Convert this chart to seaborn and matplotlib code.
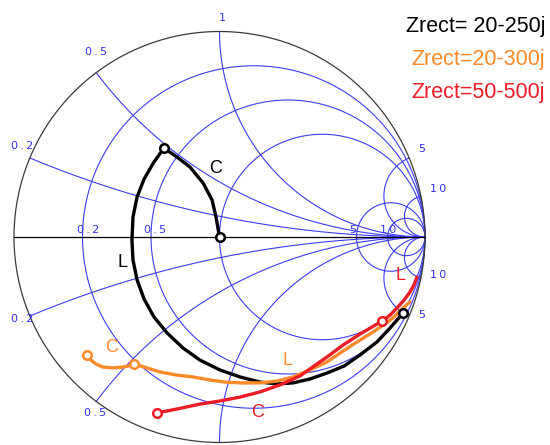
import numpy as np
import pandas as pd
import matplotlib
matplotlib.use("Agg")
import matplotlib.pyplot as plt
import seaborn as sns

# Smith chart grid values (normalized to 50 ohm)
resistance_circles = [0.2, 0.5, 1, 5, 10]
reactance_arcs = [0.2, 0.5, 1, 5, 10]

# Matching paths as reflection coefficients, from the load towards the source
black_re = [0.893, 0.830, 0.766, 0.684, 0.606, 0.523, 0.440, 0.358, 0.280, 0.197,
            0.100, 0.002, -0.095, -0.178, -0.255, -0.319, -0.367, -0.401, -0.421, -0.426,
            -0.421, -0.401, -0.367, -0.319, -0.270,
            -0.207, -0.144, -0.080, -0.036, -0.017, 0.000]
black_im = [-0.370, -0.443, -0.511, -0.574, -0.628, -0.662, -0.691, -0.710, -0.715, -0.706,
            -0.681, -0.647, -0.599, -0.540, -0.467, -0.389, -0.302, -0.209, -0.112, -0.015,
            0.097, 0.195, 0.282, 0.365, 0.433,
            0.389, 0.341, 0.263, 0.180, 0.097, 0.000]
black_marks = [0, 24, 30]

orange_re = [0.927, 0.888, 0.844, 0.791, 0.732, 0.669, 0.601, 0.523, 0.440, 0.358,
             0.280, 0.197, 0.100, 0.027, -0.046, -0.129, -0.207, -0.290, -0.353, -0.416,
             -0.445, -0.470, -0.518, -0.567, -0.601, -0.625, -0.645]
orange_im = [-0.316, -0.350, -0.394, -0.433, -0.472, -0.511, -0.555, -0.608, -0.647, -0.681,
             -0.701, -0.710, -0.710, -0.706, -0.696, -0.681, -0.672, -0.657, -0.637, -0.618,
             -0.628, -0.633, -0.637, -0.633, -0.618, -0.599, -0.574]
orange_marks = [19, 26]

red_re = [0.961, 0.946, 0.927, 0.898, 0.864, 0.830, 0.791,
          0.742, 0.684, 0.601, 0.523, 0.440, 0.392, 0.294, 0.197, 0.100, 0.002,
          -0.095, -0.207, -0.304]
red_im = [-0.195, -0.234, -0.268, -0.307, -0.345, -0.380, -0.409,
          -0.438, -0.472, -0.526, -0.584, -0.642, -0.676, -0.720, -0.754, -0.779, -0.798,
          -0.813, -0.837, -0.856]
red_marks = [6, 19]

series_names = ["Zrect= 20-250j", "Zrect=20-300j", "Zrect=50-500j"]
series_colors = ["#000000", "#ff8a2a", "#ee1c24"]

# element annotations: (text, real, imag, series index)
element_labels = [("C", -0.017, 0.331, 0), ("L", -0.474, -0.122, 0),
                  ("C", -0.523, -0.540, 1), ("L", 0.333, -0.599, 1),
                  ("C", 0.187, -0.852, 2), ("L", 0.883, -0.185, 2)]

sns.set_style("white")
plt.rcParams["font.family"] = ["Liberation Sans", "DejaVu Sans"]

fig = plt.figure(figsize=(5.5, 4.45), dpi=100)
ax = fig.add_axes([0, 0, 1, 1])
scale = 205.5
ax.set_xlim(-219.5 / scale, 330.5 / scale)
ax.set_ylim(-208.0 / scale, 237.0 / scale)
ax.set_aspect("equal")
ax.axis("off")

grid_color = "#3c3cf6"
t = np.linspace(0, 2 * np.pi, 720)

# constant-resistance circles
for r in resistance_circles:
    c, rad = r / (1 + r), 1 / (1 + r)
    ax.plot(c + rad * np.cos(t), rad * np.sin(t), color=grid_color, lw=0.8, zorder=1)

# constant-reactance arcs, clipped to the unit circle
u = np.linspace(0, np.pi / 2 - 1e-4, 1500)
rr = np.tan(u)
for xv in reactance_arcs:
    for s in (1, -1):
        z = rr + 1j * s * xv
        g = (z - 1) / (z + 1)
        ax.plot(g.real, g.imag, color=grid_color, lw=0.8, zorder=1)

# outer boundary and real axis
ax.plot(np.cos(t), np.sin(t), color="#3a3a3a", lw=0.9, zorder=2)
ax.plot([-1, 1], [0, 0], color="black", lw=0.9, zorder=2)

# grid labels
lab_kw = dict(color="#3030f0", fontsize=8, ha="center", va="center",
              family=["DejaVu Sans"], zorder=2)
def spaced(v):
    return "\u2009".join(list(v))
reactance_label_pos = {"1": (0.012, 1.066), "0.5": (-0.601, 0.900), "0.2": (-0.961, 0.443),
                       "5": (0.985, 0.428), "10": (1.063, 0.234)}
lower_label_pos = {"0.5": (-0.606, -0.856), "0.2": (-0.961, -0.399),
                   "5": (0.985, -0.380), "10": (1.063, -0.185)}
for k, (px, py) in reactance_label_pos.items():
    ax.text(px, py, spaced(k), **lab_kw)
for k, (px, py) in lower_label_pos.items():
    ax.text(px, py, spaced(k), **lab_kw)
axis_label_pos = {"0.2": -0.640, "0.5": -0.314, "5": 0.650, "10": 0.820}
for k, px in axis_label_pos.items():
    ax.text(px, 0.034, spaced(k), **lab_kw)

# matching paths
paths = [(black_re, black_im, black_marks), (orange_re, orange_im, orange_marks),
         (red_re, red_im, red_marks)]
order = [1, 0, 2]
for i in order:
    re, im, marks = paths[i]
    df = pd.DataFrame({"re": re, "im": im})
    sns.lineplot(data=df, x="re", y="im", sort=False, estimator=None, ax=ax,
                 color=series_colors[i], lw=2.4, zorder=3 + i * 0.1)
for i in order:
    re, im, marks = paths[i]
    mk = pd.DataFrame({"re": [re[m] for m in marks], "im": [im[m] for m in marks]})
    sns.scatterplot(data=mk, x="re", y="im", ax=ax, marker="o", s=38,
                    facecolor="white", edgecolor=series_colors[i], linewidth=1.8,
                    zorder=5)

for text, px, py, i in element_labels:
    ax.text(px, py, text, color=series_colors[i], fontsize=13, ha="center",
            va="center", zorder=6)

# series legend, right-aligned in the top corner
for k, (name, col) in enumerate(zip(series_names, series_colors)):
    ax.text(545 / scale - 219.5 / scale, (237 - (32 + 33 * k)) / scale, name,
            color=col, fontsize=15.5, ha="right", va="baseline")

ax.set_xlabel("")
ax.set_ylabel("")
fig.savefig("out.png", dpi=100)
